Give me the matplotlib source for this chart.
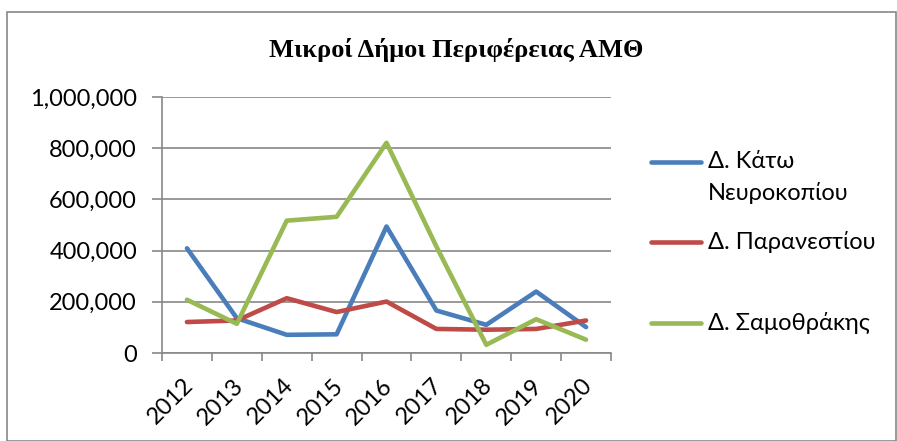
import matplotlib.pyplot as plt
from matplotlib.lines import Line2D
from matplotlib.patches import Rectangle
from matplotlib.ticker import FuncFormatter
from matplotlib.transforms import ScaledTranslation
import numpy as np

# Μικροί Δήμοι Περιφέρειας ΑΜΘ
years = ['2012', '2013', '2014', '2015', '2016', '2017', '2018', '2019', '2020']

kato_nevrokopiou = [409000, 136000, 71000, 73000, 494000, 166000, 110000, 240000, 101000]
paranestiou = [121000, 127000, 214000, 160000, 201000, 94000, 91000, 94000, 127000]
samothrakis = [208000, 114000, 517000, 532000, 821000, 416000, 32000, 132000, 52000]

series_names = ['Δ. Κάτω\nΝευροκοπίου', 'Δ. Παρανεστίου', 'Δ. Σαμοθράκης']
series_colors = ['#4A7EBB', '#BE4B48', '#98B954']
series = [kato_nevrokopiou, paranestiou, samothrakis]

plt.rcParams['font.family'] = ['Lato', 'DejaVu Sans']
FS = 17
GREY = '#888888'

fig = plt.figure(figsize=(8.97, 4.41), dpi=100)
ax = fig.add_axes([162 / 897, 1 - 353 / 441, (611 - 162) / 897, (353 - 97) / 441])

# outer chart frame
fig.add_artist(Rectangle((7 / 897, 0), 889 / 897, 1 - 12 / 441, transform=fig.transFigure,
                         fill=False, edgecolor=GREY, linewidth=1.2))

x = np.arange(len(years)) + 0.5
for vals, col in zip(series, series_colors):
    ax.plot(x, vals, color=col, linewidth=3.3, solid_capstyle='round', solid_joinstyle='round')

ax.set_xlim(0, len(years))
ax.set_ylim(0, 1000000)
ax.set_yticks(np.arange(0, 1000001, 200000))
ax.yaxis.set_major_formatter(FuncFormatter(lambda v, p: f'{int(v):,}'))
ax.grid(axis='y', color=GREY, linewidth=1.2)
ax.set_axisbelow(True)

ax.set_xticks(np.arange(len(years) + 1))
ax.set_xticklabels([])
ax.set_xticks(x, minor=True)
ax.set_xticklabels(years, minor=True, rotation=45, ha='right', va='center',
                   rotation_mode='anchor', fontsize=FS)
ax.tick_params(axis='x', which='minor', length=0, pad=21)
ax.tick_params(axis='x', which='major', length=6, color=GREY, width=1.2)
ax.tick_params(axis='y', length=7, color=GREY, width=1.2, labelsize=FS, pad=11)
shift = ScaledTranslation(3 / 100, 0, fig.dpi_scale_trans)
for lab in ax.get_xticklabels(minor=True):
    lab.set_transform(lab.get_transform() + shift)

for s in ['top', 'right']:
    ax.spines[s].set_visible(False)
for s in ['left', 'bottom']:
    ax.spines[s].set_color(GREY)
    ax.spines[s].set_linewidth(1.2)

fig.text(456 / 897, 1 - 50 / 441, 'Μικροί Δήμοι Περιφέρειας ΑΜΘ', ha='center', va='center',
         fontsize=19, fontweight='bold', family=['Liberation Serif', 'DejaVu Serif'])

# legend
legend_y = [162, 242, 323]
for name, col, yy in zip(series_names, series_colors, legend_y):
    fy = 1 - yy / 441
    fig.add_artist(Line2D([651 / 897, 701 / 897], [fy, fy], transform=fig.transFigure,
                          color=col, linewidth=3.3, solid_capstyle='round'))
    for i, line in enumerate(name.split('\n')):
        fig.text(708 / 897, fy - i * 31 / 441, line, ha='left', va='center', fontsize=FS)

fig.savefig('out.png', dpi=100)
